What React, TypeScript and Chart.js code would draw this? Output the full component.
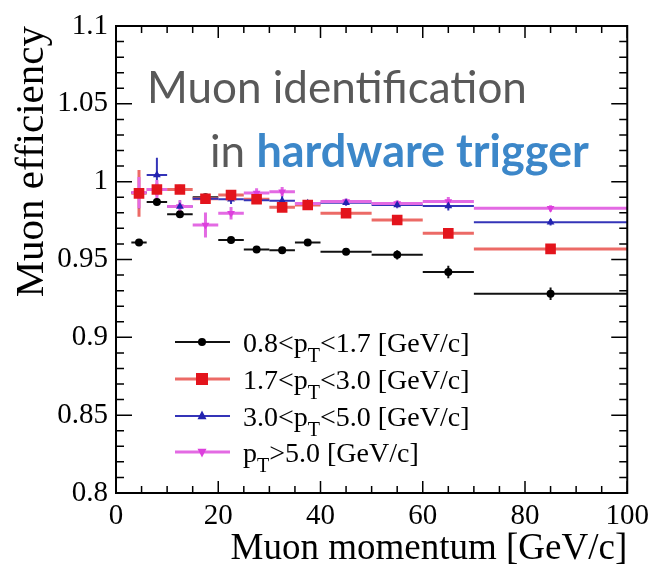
import React, { useEffect, useRef } from 'react';
import { Chart, registerables } from 'chart.js';
Chart.register(...registerables);

// ---- data ----
const binLo = [3, 6, 10, 15, 20, 25, 30, 35, 40, 50, 60, 70];
const binHi = [6, 10, 15, 20, 25, 30, 35, 40, 50, 60, 70, 100];
const binCenter = [4.5, 8, 12.5, 17.5, 22.5, 27.5, 32.5, 37.5, 45, 55, 65, 85];

const effLow = [0.961, 0.987, 0.979, 0.99, 0.9625, 0.9565, 0.956, 0.961, 0.955, 0.953, 0.942, 0.928];
const errLow = [0.002, 0.002, 0.002, 0.002, 0.002, 0.001, 0.002, 0.002, 0.002, 0.003, 0.004, 0.004];
const effMid = [0.9925, 0.995, 0.995, 0.989, 0.9914, 0.9887, 0.9835, 0.985, 0.9797, 0.9754, 0.9668, 0.9568];
const errMid = [0.015, 0.004, 0.003, 0.003, 0.003, 0.002, 0.002, 0.002, 0.002, 0.002, 0.002, 0.002];
const effHigh = [0.993, 1.0043, 0.984, 0.989, 0.9887, 0.988, 0.9878, 0.9861, 0.9865, 0.985, 0.9844, 0.9739];
const errHigh = [0.01, 0.011, 0.004, 0.003, 0.003, 0.002, 0.003, 0.002, 0.002, 0.002, 0.003, 0.002];
const effVHigh = [0.993, 0.995, 0.984, 0.9722, 0.9797, 0.9927, 0.9936, 0.986, 0.9872, 0.986, 0.9872, 0.9829];
const errVHigh = [0.01, 0.006, 0.004, 0.008, 0.004, 0.003, 0.003, 0.002, 0.002, 0.002, 0.003, 0.002];

const legendPre = ['0.8<p', '1.7<p', '3.0<p', 'p'];
const legendSub = ['T', 'T', 'T', 'T'];
const legendPost = ['<1.7 [GeV/c]', '<3.0 [GeV/c]', '<5.0 [GeV/c]', '>5.0 [GeV/c]'];

const xTickValues = [0, 20, 40, 60, 80, 100];
const xTickLabels = ['0', '20', '40', '60', '80', '100'];
const yTickValues = [0.8, 0.85, 0.9, 0.95, 1.0, 1.05, 1.1];
const yTickLabels = ['0.8', '0.85', '0.9', '0.95', '1', '1.05', '1.1'];

const xTitle = 'Muon momentum [GeV/c]';
const yTitle = 'Muon efficiency';
const overlayLine1 = 'Muon identification';
const overlayLine2a = 'in ';
const overlayLine2b = 'hardware trigger';

// ---- styles ----
const seriesVals = [effLow, effMid, effHigh, effVHigh];
const seriesErrs = [errLow, errMid, errHigh, errVHigh];
const seriesColor = ['#000000', '#e3141c', '#2323b0', '#dd3fdd'];
const barColor = ['#111111', '#ec6a66', '#3434b8', '#e36ae3'];
const barWidth = [2, 3, 2, 3];
const markerShape = ['circle', 'square', 'triangle', 'invtriangle'];
const markerSize = [4, 6, 4.5, 4.5];
const drawOrder = [3, 0, 1, 2];

const SERIF = '"Liberation Serif", "Times New Roman", serif';

function drawMarker(ctx: CanvasRenderingContext2D, shape: string, x: number, y: number, r: number, color: string) {
  ctx.save();
  ctx.fillStyle = color;
  ctx.beginPath();
  if (shape === 'circle') {
    ctx.arc(x, y, r, 0, Math.PI * 2);
  } else if (shape === 'square') {
    ctx.rect(x - r, y - r, 2 * r, 2 * r);
  } else if (shape === 'triangle') {
    ctx.moveTo(x, y - r * 1.2);
    ctx.lineTo(x + r, y + r * 0.7);
    ctx.lineTo(x - r, y + r * 0.7);
    ctx.closePath();
  } else {
    ctx.moveTo(x, y + r * 1.2);
    ctx.lineTo(x + r, y - r * 0.7);
    ctx.lineTo(x - r, y - r * 0.7);
    ctx.closePath();
  }
  ctx.fill();
  ctx.restore();
}

const plotPlugin = {
  id: 'plotPlugin',
  beforeDatasetsDraw(chart: any) {
    const ctx = chart.ctx as CanvasRenderingContext2D;
    const xs = chart.scales.x;
    const ys = chart.scales.y;
    const ca = chart.chartArea;
    ctx.save();
    ctx.beginPath();
    ctx.rect(ca.left, ca.top, ca.right - ca.left, ca.bottom - ca.top);
    ctx.clip();
    seriesVals.forEach((vals, s) => {
      ctx.strokeStyle = barColor[s];
      ctx.lineWidth = barWidth[s];
      vals.forEach((v, i) => {
        const y = ys.getPixelForValue(v);
        ctx.beginPath();
        ctx.moveTo(xs.getPixelForValue(binLo[i]), y);
        ctx.lineTo(xs.getPixelForValue(binHi[i]), y);
        ctx.stroke();
        const xc = xs.getPixelForValue(binCenter[i]);
        ctx.beginPath();
        ctx.moveTo(xc, ys.getPixelForValue(v - seriesErrs[s][i]));
        ctx.lineTo(xc, ys.getPixelForValue(v + seriesErrs[s][i]));
        ctx.stroke();
      });
    });
    ctx.restore();
  },
  afterDatasetsDraw(chart: any) {
    const ctx = chart.ctx as CanvasRenderingContext2D;
    const xs = chart.scales.x;
    const ys = chart.scales.y;
    const ca = chart.chartArea;
    ctx.save();
    // frame
    ctx.strokeStyle = '#000';
    ctx.lineWidth = 2;
    ctx.strokeRect(ca.left, ca.top, ca.right - ca.left, ca.bottom - ca.top);
    // x ticks
    ctx.lineWidth = 1.5;
    for (let v = 0; v <= 100; v += 5) {
      const major = xTickValues.includes(v);
      const len = major ? 12 : 7;
      const px = xs.getPixelForValue(v);
      ctx.beginPath();
      ctx.moveTo(px, ca.bottom);
      ctx.lineTo(px, ca.bottom - len);
      ctx.moveTo(px, ca.top);
      ctx.lineTo(px, ca.top + len);
      ctx.stroke();
    }
    for (let k = 0; k <= 30; k++) {
      const v = 0.8 + k * 0.01;
      const major = k % 5 === 0;
      const len = major ? 16 : 8;
      const py = ys.getPixelForValue(v);
      ctx.beginPath();
      ctx.moveTo(ca.left, py);
      ctx.lineTo(ca.left + len, py);
      ctx.moveTo(ca.right, py);
      ctx.lineTo(ca.right - len, py);
      ctx.stroke();
    }
    // legend
    const rowY = [342, 379, 416, 452];
    const lx1 = 175, lx2 = 230, lm = 202, tx = 243;
    for (let s = 0; s < 4; s++) {
      const y = rowY[s];
      ctx.strokeStyle = barColor[s];
      ctx.lineWidth = barWidth[s];
      ctx.beginPath();
      ctx.moveTo(lx1, y);
      ctx.lineTo(lx2, y);
      ctx.stroke();
      drawMarker(ctx, markerShape[s], lm, y, markerSize[s], seriesColor[s]);
      ctx.fillStyle = '#000';
      ctx.textBaseline = 'alphabetic';
      ctx.textAlign = 'left';
      ctx.font = `28px ${SERIF}`;
      let x = tx;
      const base = y + 10;
      ctx.fillText(legendPre[s], x, base);
      x += ctx.measureText(legendPre[s]).width;
      ctx.font = `20px ${SERIF}`;
      ctx.fillText(legendSub[s], x, base + 10);
      x += ctx.measureText(legendSub[s]).width;
      ctx.font = `28px ${SERIF}`;
      ctx.fillText(legendPost[s], x, base);
    }
    // overlay text
    ctx.textAlign = 'left';
    ctx.textBaseline = 'alphabetic';
    ctx.font = '44px Lato, "Open Sans", sans-serif';
    ctx.fillStyle = '#595959';
    ctx.fillText(overlayLine1, 147, 103);
    ctx.fillText(overlayLine2a, 210, 167);
    const w = ctx.measureText(overlayLine2a).width;
    ctx.font = 'bold 45px Lato, "Open Sans", sans-serif';
    ctx.fillStyle = '#3c87c9';
    ctx.fillText(overlayLine2b, 210 + w, 167);
    ctx.restore();
  },
};

export default function App() {
  const ref = useRef<HTMLCanvasElement | null>(null);
  useEffect(() => {
    document.body.style.margin = '0';
    const canvas = ref.current;
    if (!canvas) return;
    const datasets = seriesVals.map((vals, s) => ({
      label: legendPre[s] + legendSub[s] + legendPost[s],
      data: vals.map((v, i) => ({ x: binCenter[i], y: v })),
      showLine: false,
      pointStyle: (markerShape[s] === 'square' ? 'rect' : markerShape[s] === 'circle' ? 'circle' : 'triangle') as any,
      rotation: markerShape[s] === 'invtriangle' ? 180 : 0,
      pointRadius: markerShape[s] === 'square' ? 7.5 : markerSize[s],
      backgroundColor: seriesColor[s],
      borderColor: seriesColor[s],
      borderWidth: 0,
      order: drawOrder[s],
    }));
    const chart = new Chart(canvas, {
      type: 'scatter',
      data: { datasets },
      options: {
        animation: false,
        responsive: false,
        layout: { padding: { top: 26, right: 24, left: 0, bottom: 0 } },
        plugins: { legend: { display: false }, tooltip: { enabled: false } },
        scales: {
          x: {
            type: 'linear',
            min: 0,
            max: 100,
            afterBuildTicks: (sc: any) => { sc.ticks = xTickValues.map((v) => ({ value: v })); },
            afterFit: (sc: any) => { sc.height = 83; },
            ticks: {
              callback: (_v: any, i: number) => xTickLabels[i],
              font: { family: SERIF, size: 29 },
              color: '#000',
              padding: 6,
              maxRotation: 0,
              minRotation: 0,
              align: 'center',
              autoSkip: false,
            },
            grid: { display: false, drawTicks: false },
            border: { display: false },
            title: {
              display: true,
              text: xTitle,
              align: 'end',
              color: '#000',
              font: { family: SERIF, size: 37 },
              padding: { top: 0, bottom: 5 },
            },
          },
          y: {
            type: 'linear',
            min: 0.8,
            max: 1.1,
            afterBuildTicks: (sc: any) => { sc.ticks = yTickValues.map((v) => ({ value: v })); },
            afterFit: (sc: any) => { sc.width = 116; },
            ticks: {
              callback: (_v: any, i: number) => yTickLabels[i],
              font: { family: SERIF, size: 29 },
              color: '#000',
              padding: 8,
              autoSkip: false,
            },
            grid: { display: false, drawTicks: false },
            border: { display: false },
            title: {
              display: true,
              text: yTitle,
              align: 'end',
              color: '#000',
              font: { family: SERIF, size: 41 },
              padding: { top: 8, bottom: 0 },
            },
          },
        },
      },
      plugins: [plotPlugin],
    } as any);
    return () => chart.destroy();
  }, []);
  return (
    <div style={{ width: 655, height: 576, background: '#fff' }}>
      <canvas ref={ref} width={655} height={576} />
    </div>
  );
}
